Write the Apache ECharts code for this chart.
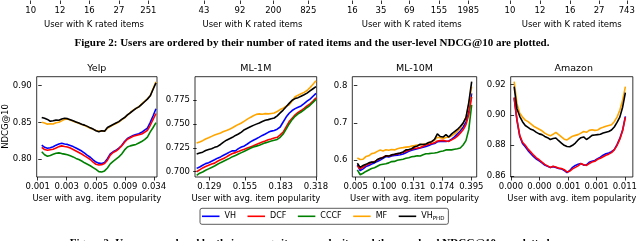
<!DOCTYPE html>
<html><head><meta charset="utf-8">
<script src="https://cdn.jsdelivr.net/npm/echarts@6/dist/echarts.min.js"></script>
<style>html,body{margin:0;padding:0;background:#fff}#c{width:640px;height:241px}</style>
</head><body><div id="c"></div>
<script>
// ---- data ----
const seriesNames = ['VH','DCF','CCCF','MF','VHPHD'];
const seriesColors = ['#0000ff','#ff0000','#008000','#ffa500','#000000'];
const rankPct = [0,2.5,5,7.5,10,12.5,15,17.5,20,22.5,25,27.5,30,32.5,35,37.5,40,42.5,45,47.5,50,52.5,55,57.5,60,62.5,65,67.5,70,72.5,75,77.5,80,82.5,85,87.5,90,92.5,95,97.5,100];

const yelpVH   = [0.8190,0.8160,0.8148,0.8155,0.8168,0.8190,0.8205,0.8215,0.8205,0.8200,0.8185,0.8170,0.8150,0.8130,0.8110,0.8080,0.8050,0.8025,0.7990,0.7960,0.7945,0.7940,0.7955,0.8005,0.8070,0.8100,0.8120,0.8150,0.8185,0.8240,0.8280,0.8300,0.8320,0.8335,0.8345,0.8365,0.8395,0.8420,0.8500,0.8590,0.8685];
const yelpDCF  = [0.8160,0.8130,0.8120,0.8128,0.8135,0.8150,0.8170,0.8180,0.8172,0.8165,0.8150,0.8130,0.8110,0.8090,0.8070,0.8045,0.8020,0.7995,0.7960,0.7930,0.7920,0.7925,0.7940,0.7985,0.8055,0.8090,0.8110,0.8140,0.8180,0.8230,0.8270,0.8290,0.8310,0.8320,0.8330,0.8340,0.8365,0.8390,0.8460,0.8540,0.8620];
const yelpCCCF = [0.8100,0.8060,0.8040,0.8050,0.8065,0.8080,0.8085,0.8075,0.8068,0.8060,0.8045,0.8030,0.8010,0.7995,0.7975,0.7950,0.7930,0.7910,0.7885,0.7860,0.7830,0.7825,0.7840,0.7880,0.7935,0.7970,0.8000,0.8030,0.8070,0.8125,0.8165,0.8180,0.8190,0.8200,0.8220,0.8240,0.8265,0.8300,0.8370,0.8430,0.8495];
const yelpMF   = [0.8500,0.8490,0.8475,0.8480,0.8478,0.8495,0.8500,0.8520,0.8540,0.8545,0.8530,0.8515,0.8500,0.8488,0.8470,0.8458,0.8440,0.8420,0.8405,0.8390,0.8380,0.8382,0.8378,0.8420,0.8442,0.8465,0.8485,0.8505,0.8535,0.8560,0.8598,0.8632,0.8665,0.8688,0.8712,0.8750,0.8785,0.8820,0.8862,0.8960,0.9050];
const yelpVHPHD= [0.8565,0.8555,0.8540,0.8515,0.8522,0.8530,0.8528,0.8545,0.8555,0.8550,0.8535,0.8520,0.8505,0.8490,0.8475,0.8462,0.8445,0.8425,0.8408,0.8385,0.8372,0.8385,0.8380,0.8430,0.8450,0.8470,0.8490,0.8510,0.8540,0.8565,0.8600,0.8630,0.8660,0.8690,0.8710,0.8745,0.8780,0.8815,0.8860,0.8950,0.9035];

const ml1mVH   = [0.7035,0.7050,0.7068,0.7085,0.7095,0.7110,0.7125,0.7142,0.7155,0.7172,0.7188,0.7205,0.7220,0.7218,0.7242,0.7258,0.7270,0.7290,0.7312,0.7330,0.7345,0.7362,0.7380,0.7395,0.7412,0.7425,0.7432,0.7445,0.7468,0.7520,0.7572,0.7612,0.7640,0.7660,0.7675,0.7688,0.7712,0.7738,0.7760,0.7790,0.7820];
const ml1mDCF  = [0.7000,0.7020,0.7040,0.7055,0.7068,0.7080,0.7090,0.7110,0.7125,0.7138,0.7155,0.7175,0.7190,0.7200,0.7212,0.7225,0.7235,0.7248,0.7260,0.7272,0.7285,0.7298,0.7310,0.7322,0.7335,0.7342,0.7352,0.7360,0.7385,0.7415,0.7470,0.7525,0.7560,0.7595,0.7620,0.7640,0.7662,0.7688,0.7710,0.7740,0.7772];
const ml1mCCCF = [0.6962,0.6985,0.6998,0.7015,0.7030,0.7045,0.7060,0.7078,0.7095,0.7110,0.7125,0.7140,0.7158,0.7170,0.7185,0.7200,0.7215,0.7230,0.7245,0.7258,0.7268,0.7278,0.7290,0.7302,0.7312,0.7322,0.7330,0.7338,0.7360,0.7395,0.7445,0.7500,0.7545,0.7580,0.7605,0.7625,0.7648,0.7672,0.7695,0.7725,0.7757];
const ml1mMF   = [0.7300,0.7312,0.7325,0.7342,0.7355,0.7370,0.7385,0.7395,0.7405,0.7420,0.7432,0.7445,0.7460,0.7478,0.7495,0.7510,0.7530,0.7550,0.7568,0.7585,0.7600,0.7605,0.7602,0.7608,0.7605,0.7610,0.7615,0.7630,0.7650,0.7665,0.7685,0.7700,0.7740,0.7785,0.7800,0.7815,0.7830,0.7850,0.7880,0.7915,0.7952];
const ml1mVHPHD= [0.7185,0.7195,0.7205,0.7222,0.7232,0.7240,0.7255,0.7265,0.7285,0.7310,0.7330,0.7345,0.7360,0.7380,0.7395,0.7415,0.7440,0.7455,0.7470,0.7485,0.7498,0.7510,0.7525,0.7538,0.7545,0.7555,0.7562,0.7585,0.7615,0.7645,0.7680,0.7715,0.7748,0.7765,0.7775,0.7790,0.7805,0.7822,0.7845,0.7868,0.7890];

const ml10mVH   = [0.5870,0.5710,0.5760,0.5820,0.5850,0.5890,0.5920,0.5960,0.5995,0.6040,0.6090,0.6080,0.6105,0.6120,0.6130,0.6140,0.6160,0.6195,0.6230,0.6260,0.6280,0.6300,0.6320,0.6340,0.6360,0.6390,0.6420,0.6440,0.6490,0.6500,0.6495,0.6500,0.6510,0.6560,0.6620,0.6700,0.6780,0.6880,0.7020,0.7300,0.7790];
const ml10mDCF  = [0.5840,0.5760,0.5800,0.5860,0.5890,0.5930,0.5955,0.6000,0.6040,0.6075,0.6110,0.6100,0.6130,0.6145,0.6160,0.6180,0.6200,0.6235,0.6260,0.6290,0.6310,0.6320,0.6335,0.6370,0.6400,0.6420,0.6440,0.6460,0.6510,0.6520,0.6525,0.6510,0.6500,0.6540,0.6580,0.6640,0.6720,0.6810,0.6950,0.7220,0.7700];
const ml10mCCCF = [0.5730,0.5600,0.5640,0.5690,0.5730,0.5770,0.5790,0.5830,0.5870,0.5885,0.5895,0.5920,0.5955,0.5960,0.5990,0.6005,0.6020,0.6045,0.6060,0.6085,0.6095,0.6110,0.6105,0.6140,0.6165,0.6170,0.6180,0.6185,0.6200,0.6225,0.6240,0.6270,0.6275,0.6270,0.6285,0.6300,0.6320,0.6400,0.6520,0.6820,0.7480];
const ml10mMF   = [0.6050,0.6010,0.6020,0.6090,0.6110,0.6170,0.6185,0.6230,0.6265,0.6240,0.6275,0.6260,0.6280,0.6270,0.6300,0.6320,0.6330,0.6345,0.6350,0.6372,0.6385,0.6400,0.6405,0.6420,0.6430,0.6460,0.6490,0.6530,0.6610,0.6595,0.6580,0.6605,0.6615,0.6650,0.6700,0.6770,0.6850,0.6980,0.7150,0.7500,0.7970];
const ml10mVHPHD= [0.5910,0.5800,0.5850,0.5880,0.5920,0.5945,0.5935,0.6010,0.6045,0.6060,0.6110,0.6105,0.6135,0.6150,0.6170,0.6185,0.6215,0.6270,0.6280,0.6300,0.6355,0.6375,0.6420,0.6415,0.6430,0.6470,0.6490,0.6550,0.6700,0.6630,0.6615,0.6680,0.6615,0.6700,0.6760,0.6820,0.6900,0.6990,0.7140,0.7550,0.8110];

const amazonVH   = [0.9110,0.8965,0.8860,0.8812,0.8790,0.8765,0.8745,0.8725,0.8710,0.8698,0.8685,0.8670,0.8662,0.8655,0.8660,0.8655,0.8648,0.8645,0.8635,0.8620,0.8635,0.8655,0.8668,0.8675,0.8680,0.8670,0.8672,0.8688,0.8695,0.8700,0.8712,0.8722,0.8735,0.8745,0.8750,0.8758,0.8772,0.8805,0.8845,0.8900,0.8990];
const amazonDCF  = [0.9115,0.8970,0.8865,0.8820,0.8800,0.8775,0.8755,0.8735,0.8718,0.8705,0.8690,0.8675,0.8665,0.8655,0.8662,0.8658,0.8650,0.8648,0.8640,0.8625,0.8630,0.8645,0.8655,0.8665,0.8680,0.8672,0.8668,0.8680,0.8690,0.8695,0.8708,0.8715,0.8725,0.8735,0.8742,0.8752,0.8770,0.8800,0.8840,0.8895,0.8985];
const amazonMF   = [0.9218,0.9075,0.9010,0.8985,0.8965,0.8955,0.8940,0.8925,0.8915,0.8905,0.8895,0.8880,0.8870,0.8862,0.8872,0.8885,0.8870,0.8855,0.8840,0.8835,0.8848,0.8860,0.8865,0.8870,0.8880,0.8890,0.8885,0.8898,0.8902,0.8898,0.8900,0.8912,0.8918,0.8925,0.8930,0.8935,0.8955,0.8985,0.9030,0.9095,0.9185];
const amazonVHPHD= [0.9185,0.9040,0.8990,0.8955,0.8930,0.8918,0.8905,0.8898,0.8885,0.8875,0.8870,0.8858,0.8850,0.8838,0.8845,0.8848,0.8830,0.8815,0.8800,0.8792,0.8790,0.8800,0.8815,0.8835,0.8850,0.8855,0.8838,0.8850,0.8865,0.8868,0.8870,0.8872,0.8880,0.8885,0.8890,0.8900,0.8920,0.8950,0.8985,0.9050,0.9145];

const yelpTickLabels   = ['0.001','0.003','0.005','0.009','0.034'];
const ml1mTickLabels   = ['0.129','0.155','0.183','0.318'];
const ml10mTickLabels  = ['0.005','0.100','0.131','0.174','0.395'];
const amazonTickLabels = ['0.000','0.000','0.001','0.001','0.011'];
const yelpYTicks = [0.80,0.85,0.90];
const ml1mYTicks = [0.700,0.725,0.750,0.775];
const ml10mYTicks = [0.6,0.7,0.8];
const amazonYTicks = [0.86,0.88,0.90,0.92];

// previous figure (cropped) tick labels
const prevLabels1 = ['10','12','16','27','251'];
const prevLabels2 = ['43','92','200','825'];
const prevLabels3 = ['16','35','69','155','1985'];
const prevLabels4 = ['10','12','16','27','743'];

// ---- layout ----
const FONT = 'DejaVu Sans';
const panels = [
  {title:'Yelp', left:36.7, width:120.3, xMin:-4.4, xMax:100.9, xTicks:[-3.5,21.9,47.5,73.1,98.25], xLabels:yelpTickLabels,
   yMin:0.7757, yMax:0.912, yTicks:yelpYTicks, yDig:2, data:[yelpVH,yelpDCF,yelpCCCF,yelpMF,yelpVHPHD]},
  {title:'ML-1M', left:195, width:121.7, xMin:-1.4, xMax:100.6, xTicks:[10.6,40.5,70.4,100], xLabels:ml1mTickLabels,
   yMin:0.6945, yMax:0.7994, yTicks:ml1mYTicks, yDig:3, data:[ml1mVH,ml1mDCF,ml1mCCCF,ml1mMF,ml1mVHPHD]},
  {title:'ML-10M', left:352.3, width:124.4, xMin:-4.4, xMax:104.4, xTicks:[-1.4,23.6,49,74.3,99.7], xLabels:ml10mTickLabels,
   yMin:0.554, yMax:0.824, yTicks:ml10mYTicks, yDig:1, data:[ml10mVH,ml10mDCF,ml10mCCCF,ml10mMF,ml10mVHPHD]},
  {title:'Amazon', left:510.7, width:126, xMin:-3.1, xMax:106.7, xTicks:[-2.9,22.8,48.6,74.1,99.5], xLabels:amazonTickLabels,
   yMin:0.8592, yMax:0.925, yTicks:amazonYTicks, yDig:2, data:[amazonVH,amazonDCF,null,amazonMF,amazonVHPHD]}
];
const prevPanels = [
  {left:29, width:130, ticks:[1.3,23.8,46.4,69.2,91.8], labels:prevLabels1},
  {left:192.5, width:120, ticks:[9.6,39.6,67.3,96.5], labels:prevLabels2},
  {left:349.7, width:124, ticks:[2.1,25.2,48.1,72.0,95.6], labels:prevLabels3},
  {left:508.7, width:126, ticks:[1.0,24.8,48.7,71.7,93.7], labels:prevLabels4}
];

const grid=[], xAxis=[], yAxis=[], series=[], graphic=[];
const tickStyle = {lineStyle:{color:'#000',width:0.8}};
const labStyle = {color:'#000', fontFamily:FONT, fontSize:8.5};
function labeler(ticks, labels){
  return function(v){ for(let i=0;i<ticks.length;i++){ if(Math.abs(ticks[i]-v)<1e-6) return labels[i]; } return ''; };
}
panels.forEach((p,gi)=>{
  grid.push({left:p.left, width:p.width, top:76.7, height:100.3, show:true, borderColor:'#000', borderWidth:0.8, backgroundColor:'rgba(0,0,0,0)'});
  xAxis.push({gridIndex:gi, type:'value', min:p.xMin, max:p.xMax,
    axisLine:{show:false}, splitLine:{show:false},
    axisTick:{show:true, length:3.5, customValues:p.xTicks, ...tickStyle},
    axisLabel:{customValues:p.xTicks, margin:5, formatter:labeler(p.xTicks,p.xLabels), ...labStyle},
    name:'User with avg. item popularity', nameLocation:'middle', nameGap:17.5, nameTextStyle:{...labStyle}});
  yAxis.push({gridIndex:gi, type:'value', min:p.yMin, max:p.yMax,
    axisLine:{show:false}, splitLine:{show:false},
    axisTick:{show:true, length:3.5, customValues:p.yTicks, ...tickStyle},
    axisLabel:{customValues:p.yTicks, margin:5, formatter:(v)=>v.toFixed(p.yDig), ...labStyle}});
  p.data.forEach((arr,si)=>{
    if(!arr) return;
    series.push({type:'line', name:seriesNames[si], xAxisIndex:gi, yAxisIndex:gi,
      data:rankPct.map((x,i)=>[x,arr[i]]), showSymbol:false, symbol:'none',
      lineStyle:{width:1.6, color:seriesColors[si]}, itemStyle:{color:seriesColors[si]}, z:2+si, animation:false});
  });
  graphic.push({type:'text', x:p.left+p.width/2, y:68.3, style:{text:p.title, fontFamily:FONT, fontSize:9.5, fill:'#000', align:'center', verticalAlign:'middle'}});
});
prevPanels.forEach((p,k)=>{
  const gi = panels.length + k;
  grid.push({left:p.left, width:p.width, top:-12, height:10, show:false});
  xAxis.push({gridIndex:gi, type:'value', min:0, max:100,
    axisLine:{show:false}, splitLine:{show:false},
    axisTick:{show:true, length:3.5, customValues:p.ticks, ...tickStyle},
    axisLabel:{customValues:p.ticks, margin:6, formatter:labeler(p.ticks,p.labels), ...labStyle},
    name:'User with K rated items', nameLocation:'middle', nameGap:19.5, nameTextStyle:{...labStyle}});
  yAxis.push({gridIndex:gi, type:'value', show:false, min:0, max:1});
});
graphic.push({type:'text', x:5.5, y:126.5, rotation:Math.PI/2, style:{text:'NDCG@10', fontFamily:FONT, fontSize:8.5, fill:'#000', align:'center', verticalAlign:'middle'}});
graphic.push({type:'text', x:312, y:43.3, style:{text:'Figure 2: Users are ordered by their number of rated items and the user-level NDCG@10 are plotted.', fontFamily:'Liberation Serif', fontWeight:'bold', fontSize:11, fill:'#000', align:'center', verticalAlign:'middle'}});
graphic.push({type:'text', x:311, y:243.5, style:{text:'Figure 3: Users are ordered by their average item popularity and the user-level NDCG@10 are plotted.', fontFamily:'Liberation Serif', fontWeight:'bold', fontSize:11, fill:'#000', align:'center', verticalAlign:'middle'}});

const chart = echarts.init(document.getElementById('c'), null, {renderer:'canvas'});
chart.setOption({
  animation:false,
  grid, xAxis, yAxis, series, graphic,
  legend:{data:seriesNames, left:200, top:208.3, icon:'rect', itemWidth:17.5, itemHeight:1.6, itemGap:11.5,
    padding:[3,4,3,2], borderColor:'#333', borderWidth:0.8, borderRadius:2, backgroundColor:'#fff',
    formatter:(n)=> n==='VHPHD' ? '{m|VH}{s|PHD}' : n,
    textStyle:{fontFamily:FONT, fontSize:8, color:'#000', lineHeight:10,
      rich:{m:{fontFamily:FONT, fontSize:8, color:'#000'}, s:{fontFamily:FONT, fontSize:5.5, color:'#000', padding:[4,0,0,0]}}}}
});
</script></body></html>
